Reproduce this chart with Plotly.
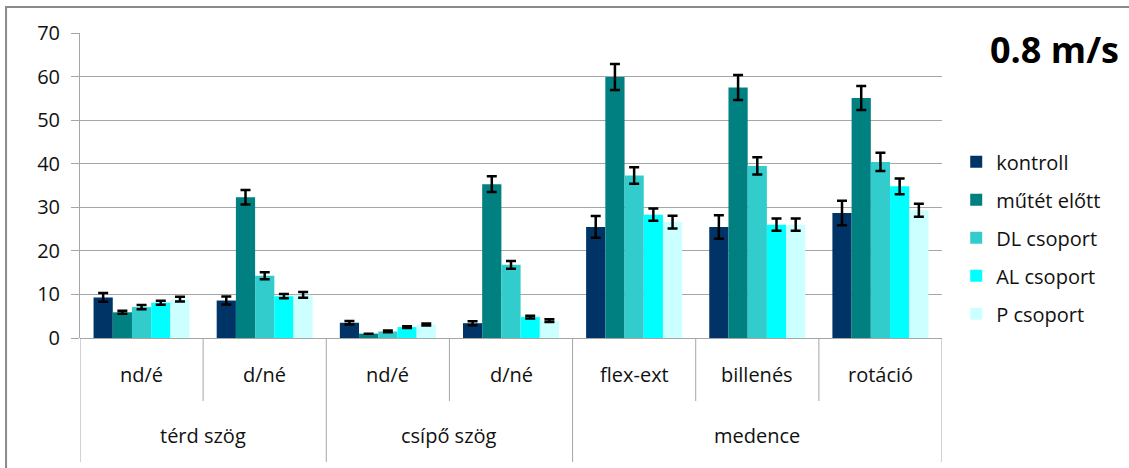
import plotly.graph_objects as go

# Measurement categories (inner level) and their parent groups (outer level)
categories = ["nd/é", "d/né", "nd/é", "d/né", "flex-ext", "billenés", "rotáció"]
groups = ["térd szög", "csípő szög", "medence"]
group_sizes = [2, 2, 3]

series_names = ["kontroll", "műtét előtt", "DL csoport", "AL csoport", "P csoport"]
series_colors = ["#003366", "#008080", "#33CCCC", "#00FFFF", "#CCFFFF"]

kontroll = [9.3, 8.6, 3.5, 3.4, 25.5, 25.5, 28.7]
mutet_elott = [5.9, 32.3, 1.0, 35.3, 59.9, 57.5, 55.1]
dl_csoport = [7.1, 14.3, 1.5, 16.8, 37.3, 39.5, 40.4]
al_csoport = [8.1, 9.6, 2.5, 4.8, 28.3, 26.0, 34.8]
p_csoport = [8.9, 9.9, 3.1, 4.0, 26.6, 26.0, 29.3]

kontroll_err = [1.0, 0.9, 0.4, 0.45, 2.5, 2.7, 2.8]
mutet_elott_err = [0.35, 1.65, None, 1.8, 3.0, 2.85, 2.75]
dl_csoport_err = [0.5, 0.8, 0.2, 0.9, 1.9, 2.0, 2.1]
al_csoport_err = [0.45, 0.5, 0.2, 0.3, 1.4, 1.4, 1.8]
p_csoport_err = [0.55, 0.65, 0.25, 0.3, 1.45, 1.4, 1.5]

y_ticks = [0, 10, 20, 30, 40, 50, 60, 70]
title_text = "0.8 m/s"

values = [kontroll, mutet_elott, dl_csoport, al_csoport, p_csoport]
errors = [kontroll_err, mutet_elott_err, dl_csoport_err, al_csoport_err, p_csoport_err]

FONT = "Open Sans"
FS = 20
TXT = "#111111"
GRID = "#A6A6A6"
x_pos = list(range(len(categories)))

fig = go.Figure()
for name, color, vals, errs in zip(series_names, series_colors, values, errors):
    fig.add_trace(go.Bar(
        x=x_pos, y=vals, name=name, legendgroup=name,
        marker=dict(color=color, line=dict(width=0)),
        error_y=dict(type="data", array=errs, visible=True,
                     color="black", thickness=2.5, width=5),
    ))

# category labels and divider lines below the axis
annotations = []
shapes = []
for i, lab in enumerate(categories):
    annotations.append(dict(x=i, y=-0.1213, xref="x", yref="paper", text=lab,
                            showarrow=False, xanchor="center", yanchor="middle",
                            font=dict(family=FONT, size=FS, color=TXT)))

boundaries_full = [-0.5]
start = 0
for g, n in zip(groups, group_sizes):
    mid = start + (n - 1) / 2
    annotations.append(dict(x=mid, y=-0.3213, xref="x", yref="paper", text=g,
                            showarrow=False, xanchor="center", yanchor="middle",
                            font=dict(family=FONT, size=FS, color=TXT)))
    start += n
    boundaries_full.append(start - 0.5)

for b in [i - 0.5 for i in range(len(categories) + 1)]:
    y_end = -0.4066 if b in boundaries_full else -0.2066
    shapes.append(dict(type="line", xref="x", yref="paper", x0=b, x1=b,
                       y0=0, y1=y_end, line=dict(color=GRID, width=1)))

# outer chart frame
shapes.append(dict(type="rect", xref="paper", yref="paper",
                   x0=-0.0858, x1=1.4, y0=-0.7, y1=1.0852,
                   line=dict(color="#8A8A8A", width=2), fillcolor="rgba(0,0,0,0)",
                   layer="above"))

annotations.append(dict(x=1.2077, y=0.9475, xref="paper", yref="paper",
                        text="<b>" + title_text + "</b>", showarrow=False,
                        xanchor="right", yanchor="middle",
                        font=dict(family=FONT, size=36, color="black")))

fig.update_layout(
    width=1129, height=468,
    margin=dict(l=80, r=187, t=33, b=130),
    paper_bgcolor="white", plot_bgcolor="white",
    barmode="group", bargap=0.22, bargroupgap=0,
    font=dict(family=FONT, size=FS, color=TXT),
    showlegend=True,
    legend=dict(x=1.0165, y=0.642, xanchor="left", yanchor="top",
                traceorder="grouped", tracegroupgap=9,
                font=dict(family=FONT, size=FS, color=TXT),
                bgcolor="rgba(0,0,0,0)"),
    xaxis=dict(range=[-0.5, len(categories) - 0.5], showticklabels=False,
               showgrid=False, zeroline=False, showline=False, fixedrange=True),
    yaxis=dict(range=[0, 70], tickvals=y_ticks, showgrid=True, gridcolor=GRID,
               gridwidth=1, zeroline=True, zerolinecolor=GRID, zerolinewidth=1,
               showline=True, linecolor=GRID, linewidth=1,
               ticks="outside", ticklen=8, tickcolor=GRID,
               ticklabelstandoff=7,
               tickfont=dict(family=FONT, size=FS, color=TXT)),
    annotations=annotations,
    shapes=shapes,
)

fig.write_html("out.html")
